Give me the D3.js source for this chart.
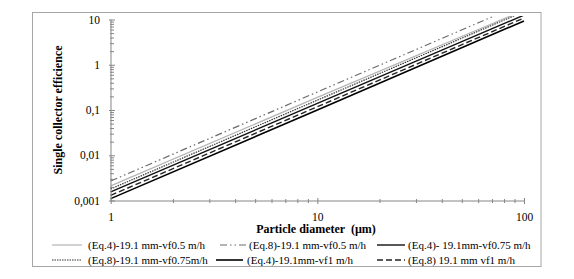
<!DOCTYPE html>
<html><head><meta charset="utf-8">
<script src="https://cdn.jsdelivr.net/npm/d3@7/dist/d3.min.js"></script>
<style>body{margin:0;background:#fff}svg{display:block}</style>
</head><body>
<script>
// Data
const diameters = [1, 10, 100];
const seriesNames = [
  "(Eq.4)-19.1 mm-vf0.5 m/h",
  "(Eq.8)-19.1 mm-vf0.5 m/h",
  "(Eq.4)- 19.1mm-vf0.75 m/h",
  "(Eq.8)-19.1 mm-vf0.75m/h",
  "(Eq.4)-19.1mm-vf1 m/h",
  "(Eq.8) 19.1 mm vf1 m/h"
];
const eq4_05 = [0.0021, 0.19, 16];
const eq8_05 = [0.0027, 0.25, 23];
const eq4_075 = [0.00155, 0.14, 12.5];
const eq8_075 = [0.0018, 0.165, 15];
const eq4_1 = [0.0011, 0.1, 9.3];
const eq8_1 = [0.0013, 0.118, 10.8];
const xTicks = [1, 10, 100];
const yTicks = [0.001, 0.01, 0.1, 1, 10];
const yTickLabels = ["0,001", "0,01", "0,1", "1", "10"];

const seriesValues = [eq4_05, eq8_05, eq4_075, eq8_075, eq4_1, eq8_1];
const styles = [
  {stroke:"#b4b4b4", w:1.2, dash:null},
  {stroke:"#6a6a6a", w:1.2, dash:"7,3,1.5,3,1.5,3"},
  {stroke:"#111", w:1.4, dash:null},
  {stroke:"#333", w:1.2, dash:"1.5,1"},
  {stroke:"#000", w:1.6, dash:null},
  {stroke:"#222", w:1.4, dash:"6,3"}
];

const W = 574, H = 279;
const svg = d3.select("body").append("svg").attr("width", W).attr("height", H);
const serif = "'Liberation Serif','Times New Roman',serif";

// outer frame
svg.append("rect").attr("x", 32.5).attr("y", 12.5).attr("width", 508.5).attr("height", 254)
  .attr("fill", "#fff").attr("stroke", "#a6a6a6").attr("stroke-width", 1);

const x = d3.scaleLog().domain([1, 100]).range([110.7, 524]);
const y = d3.scaleLog().domain([0.001, 10]).range([200.5, 19.5]);

// clip
svg.append("clipPath").attr("id", "clip").append("rect")
  .attr("x", 110).attr("y", 16).attr("width", 416).attr("height", 186);

// lines
const line = d3.line().x((d, i) => x(diameters[i])).y(d => y(d));
const g = svg.append("g").attr("clip-path", "url(#clip)");
seriesValues.forEach((vals, i) => {
  const s = styles[i];
  g.append("path").attr("d", line(vals)).attr("fill", "none")
    .attr("stroke", s.stroke).attr("stroke-width", s.w)
    .attr("stroke-dasharray", s.dash);
});

// axes
const axisColor = "#868686";
const minorX = [];
[1, 10].forEach(b => { for (let k = 2; k <= 9; k++) minorX.push(b * k); });
const minorY = [];
[0.001, 0.01, 0.1, 1].forEach(b => { for (let k = 2; k <= 9; k++) minorY.push(b * k); });

const xAxis = svg.append("g").attr("transform", "translate(0,201)")
  .call(d3.axisBottom(x).tickValues(minorX).tickSize(2).tickFormat(""));
xAxis.select(".domain").remove();
xAxis.selectAll("line").attr("stroke", axisColor).attr("y1", -2);
const xAxisMaj = svg.append("g").attr("transform", "translate(0,201)")
  .call(d3.axisBottom(x).tickValues(xTicks).tickSize(3).tickPadding(9).tickFormat(d3.format("d")));
xAxisMaj.select(".domain").attr("stroke", axisColor).attr("d", `M${x(1)},0H${x(100)}`);
xAxisMaj.selectAll("line").attr("stroke", axisColor).attr("y1", -3);
xAxisMaj.selectAll("text").attr("font-family", serif).attr("font-size", 11.5).attr("fill", "#000");

const yAxis = svg.append("g").attr("transform", "translate(111,0)")
  .call(d3.axisRight(y).tickValues(minorY).tickSize(3).tickFormat(""));
yAxis.select(".domain").remove();
yAxis.selectAll("line").attr("stroke", axisColor).attr("x1", -1);
const yAxisMaj = svg.append("g").attr("transform", "translate(111,0)")
  .call(d3.axisLeft(y).tickValues(yTicks).tickSize(2).tickPadding(9)
    .tickFormat((d, i) => yTickLabels[i]));
yAxisMaj.select(".domain").attr("stroke", axisColor).attr("d", `M0,${y(0.001)}V${y(10)}`);
yAxisMaj.selectAll("line").attr("stroke", axisColor).attr("x1", 4);
yAxisMaj.selectAll("text").attr("font-family", serif).attr("font-size", 11.5).attr("fill", "#000");

// titles
svg.append("text").attr("x", 316).attr("y", 233).attr("text-anchor", "middle")
  .attr("font-family", serif).attr("font-size", 12).attr("font-weight", "bold")
  .attr("xml:space", "preserve").text("Particle diameter  (\u00b5m)");
svg.append("text").attr("transform", "translate(62,110) rotate(-90)").attr("text-anchor", "middle")
  .attr("font-family", serif).attr("font-size", 12).attr("font-weight", "bold")
  .text("Single collector efficience");

// legend
const legPos = [
  {sx: 52, ex: 82, tx: 88, y: 245},
  {sx: 220, ex: 247, tx: 249, y: 245},
  {sx: 377, ex: 405, tx: 408, y: 245},
  {sx: 52, ex: 82, tx: 88, y: 260},
  {sx: 216, ex: 243, tx: 247, y: 260},
  {sx: 377, ex: 405, tx: 408, y: 260}
];
// order in legend: row1 = S1,S2,S3 ; row2 = S4,S5,S6
seriesNames.forEach((name, i) => {
  const p = legPos[i], s = styles[i];
  svg.append("line").attr("x1", p.sx).attr("x2", p.ex).attr("y1", p.y).attr("y2", p.y)
    .attr("stroke", s.stroke).attr("stroke-width", s.w).attr("stroke-dasharray", s.dash);
  svg.append("text").attr("x", p.tx).attr("y", p.y + 4).attr("font-family", serif)
    .attr("font-size", 11).attr("fill", "#000").attr("xml:space", "preserve").text(name);
});
</script>
</body></html>
